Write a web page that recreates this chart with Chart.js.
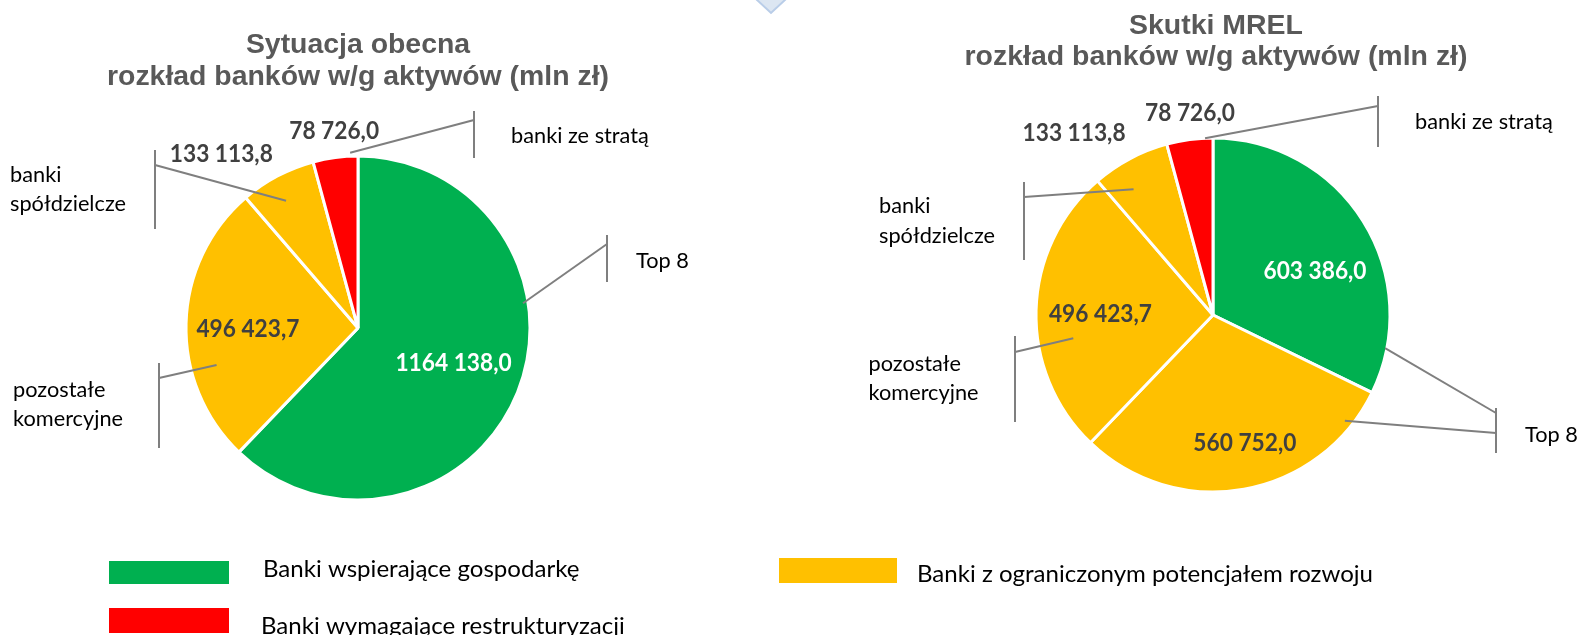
<!DOCTYPE html>
<html>
<head>
<meta charset="utf-8">
<title>Rozkład banków w/g aktywów</title>
<script src="https://cdn.jsdelivr.net/npm/chart.js"></script>
<style>
  body { margin: 0; background: #fff; }
  #wrap { position: relative; width: 1581px; height: 635px; overflow: hidden; }
  canvas { position: absolute; left: 0; top: 0; }
</style>
</head>
<body>
<div id="wrap">
  <canvas id="now" width="1581" height="635"></canvas>
  <canvas id="mrel" width="1581" height="635"></canvas>
</div>
<script>
// ---- data (mln zł) ----
const titleNow = ["Sytuacja obecna", "rozkład banków w/g aktywów (mln zł)"];
const groupsNow = [["Top 8"], ["pozostałe", "komercyjne"], ["banki", "spółdzielcze"], ["banki ze stratą"]];
const assetsNow = [1164138.0, 496423.7, 133113.8, 78726.0];

const titleMrel = ["Skutki MREL", "rozkład banków w/g aktywów (mln zł)"];
const groupsMrel = [["Top 8"], ["Top 8"], ["pozostałe", "komercyjne"], ["banki", "spółdzielcze"], ["banki ze stratą"]];
const assetsMrel = [603386.0, 560752.0, 496423.7, 133113.8, 78726.0];

const legendLabels = ["Banki wspierające gospodarkę", "Banki z ograniczonym potencjałem rozwoju", "Banki wymagające restrukturyzacji"];

// ---- styles ----
const GREEN = "#00B050", YELLOW = "#FFC000", RED = "#FF0000";
const LINE = "#7F7F7F", DARK = "#404040", TITLE = "#595959";
const colorsNow = [GREEN, YELLOW, YELLOW, RED];
const colorsMrel = [GREEN, YELLOW, YELLOW, YELLOW, RED];

const W = 1581, H = 635, BW = 3;
const TITLE_FONT = "bold 28px 'Liberation Sans', Arial, sans-serif";
const VALUE_FONT = "bold 24px Lato, sans-serif";
const CAT_FONT = "22px Lato, sans-serif";
const LEG_FONT = "24px Lato, sans-serif";

// "1164 138,0" style used on the slide
function fmt(v) {
  const [i, d] = v.toFixed(1).split(".");
  return (i.length > 3 ? i.slice(0, -3) + " " + i.slice(-3) : i) + "," + d;
}

// horizontal squeeze so the text widths match the slide
function scaleFor(ctx, font, sample, width) {
  ctx.save();
  ctx.font = font;
  const s = width / ctx.measureText(sample).width;
  ctx.restore();
  return s;
}

function drawText(ctx, s, x, y, font, sx, color, align) {
  ctx.save();
  ctx.font = font;
  ctx.fillStyle = color;
  ctx.textAlign = "left";
  ctx.textBaseline = "alphabetic";
  const w = ctx.measureText(s).width * sx;
  ctx.translate(align === "center" ? x - w / 2 : x, y);
  ctx.scale(sx, 1);
  ctx.fillText(s, 0, 0);
  ctx.restore();
}

function arcPoint(arc, a, rf) {
  const r = rf * arc.outerRadius;
  return { x: arc.x + Math.cos(a) * r, y: arc.y + Math.sin(a) * r };
}

// place the pie: center and radius on the page
function padFor(cx, cy, r) {
  const h = r + BW / 2;
  return { left: cx - h, top: cy - h, right: W - (cx + h), bottom: H - (cy + h) };
}

const calloutPlugin = {
  id: "callouts",
  afterDatasetsDraw(chart, args, opts) {
    const ctx = chart.ctx;
    const arcs = chart.getDatasetMeta(0).data;
    const values = chart.data.datasets[0].data;
    const groups = opts.groups;

    // title
    const ts = scaleFor(ctx, TITLE_FONT, opts.title[1], opts.titleWidth);
    opts.title.forEach((t, i) => drawText(ctx, t, opts.titleX, opts.titleY[i], TITLE_FONT, ts, TITLE, "center"));

    // leader lines + brackets
    ctx.save();
    ctx.strokeStyle = LINE;
    ctx.lineWidth = 2;
    opts.leaders.forEach(l => {
      const arc = arcs[l.slice];
      const a = arc.startAngle + l.t * (arc.endAngle - arc.startAngle);
      const p = arcPoint(arc, a, l.rf);
      ctx.beginPath();
      ctx.moveTo(p.x, p.y);
      ctx.lineTo(l.bx, l.by);
      ctx.stroke();
    });
    opts.brackets.forEach(b => {
      ctx.beginPath();
      ctx.moveTo(b.x, b.y1);
      ctx.lineTo(b.x, b.y2);
      ctx.stroke();
    });
    ctx.restore();

    // value labels
    const vs = scaleFor(ctx, VALUE_FONT, "496 423,7", 103);
    arcs.forEach((arc, i) => {
      const lp = opts.labels[i];
      const a = (arc.startAngle + arc.endAngle) / 2 + lp.d * Math.PI / 180;
      const p = arcPoint(arc, a, lp.rf);
      drawText(ctx, fmt(values[i]), p.x, p.y + 8.6, VALUE_FONT, vs, lp.c || DARK, "center");
    });

    // category names
    const cs = scaleFor(ctx, CAT_FONT, "spółdzielcze", 116);
    opts.names.forEach(n => {
      groups[n.slice].forEach((line, k) => drawText(ctx, line, n.x, n.y + k * (n.lh || 29), CAT_FONT, cs, "#000", "left"));
    });
  }
};

const legendPlugin = {
  id: "sharedLegend",
  afterDraw(chart, args, opts) {
    const ctx = chart.ctx;
    const items = [
      { c: GREEN, r: [109, 561, 120, 23], x: 263, y: 577 },
      { c: YELLOW, r: [779, 558, 118, 25], x: 917, y: 582 },
      { c: RED, r: [109, 608, 120, 25], x: 261, y: 634 }
    ];
    const ls = scaleFor(ctx, LEG_FONT, legendLabels[1], 456);
    items.forEach((it, i) => {
      ctx.fillStyle = it.c;
      ctx.fillRect(...it.r);
      drawText(ctx, legendLabels[i], it.x, it.y, LEG_FONT, ls, "#000", "left");
    });
    // small arrow left over from the slide at the top
    ctx.save();
    ctx.beginPath();
    ctx.moveTo(756, -1);
    ctx.lineTo(786, -1);
    ctx.lineTo(771, 13);
    ctx.closePath();
    ctx.fillStyle = "#DCE6F2";
    ctx.strokeStyle = "#B9CDE8";
    ctx.lineWidth = 2;
    ctx.fill();
    ctx.stroke();
    ctx.restore();
  }
};

function pieConfig(values, colors, pad, callouts, extra) {
  return {
    type: "pie",
    data: {
      labels: values.map((v, i) => i),
      datasets: [{
        data: values,
        backgroundColor: colors,
        borderColor: "#fff",
        borderWidth: BW
      }]
    },
    options: {
      responsive: false,
      animation: false,
      events: [],
      layout: { padding: pad },
      plugins: {
        legend: { display: false },
        tooltip: { enabled: false },
        callouts: callouts
      }
    },
    plugins: [calloutPlugin].concat(extra || [])
  };
}

new Chart(document.getElementById("now"), pieConfig(assetsNow, colorsNow, padFor(358, 328, 172), {
  groups: groupsNow,
  title: titleNow, titleX: 358, titleY: [52.5, 85], titleWidth: 502,
  labels: [
    { rf: 0.59, d: -2.2, c: "#fff" },
    { rf: 0.64, d: -1.5 },
    { rf: 1.29, d: -10.1 },
    { rf: 1.16, d: 0.7 }
  ],
  leaders: [
    { slice: 0, t: 0.364, rf: 0.97, bx: 607, by: 244 },
    { slice: 3, t: 0.83, rf: 1.02, bx: 474, by: 120 },
    { slice: 2, t: 0.44, rf: 0.85, bx: 155, by: 165 },
    { slice: 1, t: 0.33, rf: 0.85, bx: 159, by: 378 }
  ],
  brackets: [
    { x: 474, y1: 111, y2: 158 },
    { x: 607, y1: 235, y2: 282 },
    { x: 155, y1: 150, y2: 229 },
    { x: 159, y1: 363, y2: 448 }
  ],
  names: [
    { slice: 3, x: 511, y: 143 },
    { slice: 0, x: 636, y: 268 },
    { slice: 2, x: 10, y: 182, lh: 29 },
    { slice: 1, x: 13, y: 397, lh: 28.5 }
  ]
}, [legendPlugin]));

new Chart(document.getElementById("mrel"), pieConfig(assetsMrel, colorsMrel, padFor(1213, 315, 177), {
  groups: groupsMrel,
  title: titleMrel, titleX: 1216, titleY: [33.5, 64.5], titleWidth: 503,
  labels: [
    { rf: 0.63, d: 8.2, c: "#fff" },
    { rf: 0.74, d: -4 },
    { rf: 0.636, d: -0.5 },
    { rf: 1.294, d: -9.4 },
    { rf: 1.154, d: 1.1 }
  ],
  leaders: [
    { slice: 4, t: 0.83, rf: 1.0, bx: 1378, by: 106 },
    { slice: 0, t: 0.87, rf: 0.99, bx: 1496, by: 413 },
    { slice: 1, t: 0.118, rf: 0.955, bx: 1496, by: 433 },
    { slice: 3, t: 0.33, rf: 0.84, bx: 1024, by: 197 },
    { slice: 2, t: 0.385, rf: 0.80, bx: 1015, by: 352 }
  ],
  brackets: [
    { x: 1378, y1: 96, y2: 147 },
    { x: 1496, y1: 408, y2: 453 },
    { x: 1024, y1: 182, y2: 260 },
    { x: 1015, y1: 336, y2: 422 }
  ],
  names: [
    { slice: 4, x: 1415, y: 128.5 },
    { slice: 0, x: 1525, y: 442 },
    { slice: 3, x: 879, y: 213, lh: 30 },
    { slice: 2, x: 868.5, y: 371, lh: 28.5 }
  ]
}));
</script>
</body>
</html>
